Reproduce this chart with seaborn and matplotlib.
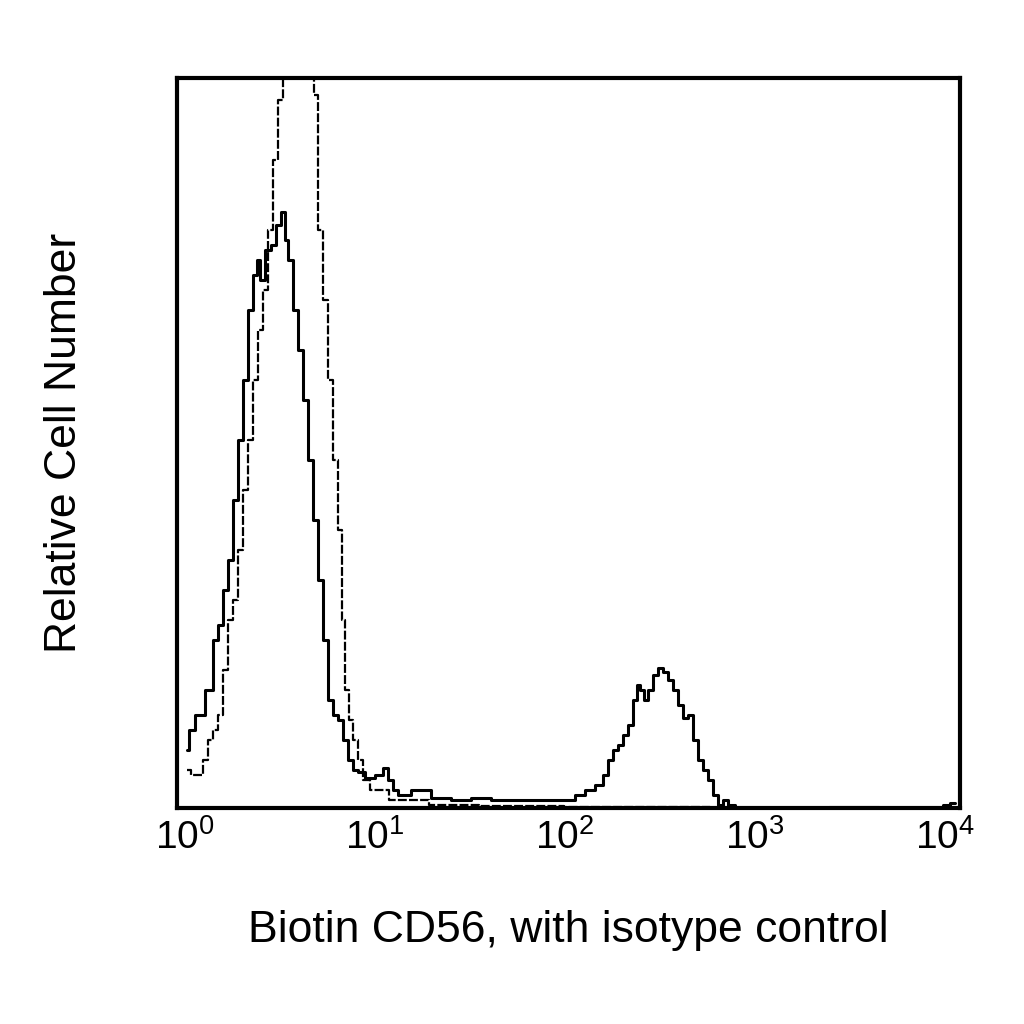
import numpy as np
import matplotlib
matplotlib.use("Agg")
import matplotlib.pyplot as plt
import seaborn as sns
import pandas as pd

# log10 fluorescence (decades) and relative cell counts
cd56_log = [0.011,0.026,0.079,0.132,0.158,0.184,0.211,0.237,0.263,0.289,0.316,0.342,0.368,0.384,0.405,0.437,0.463,0.489,0.516,0.532,0.553,0.579,0.605,0.632,0.658,0.684,0.711,0.737,0.763,0.789,0.816,0.842,0.868,0.895,0.921,0.974,1.026,1.053,1.079,1.105,1.132,1.237,1.342,1.447,1.553,1.658,1.763,1.921,2.026,2.079,2.132,2.184,2.211,2.237,2.263,2.289,2.316,2.342,2.368,2.384,2.405,2.421,2.447,2.474,2.5,2.526,2.553,2.579,2.605,2.632,2.658,2.684,2.711,2.737,2.763,2.789,2.816,2.842,2.868,2.921,3.237,3.5,3.763,3.974,4.0,4.053]
cd56_cnt = [58,78,93,118,168,183,218,248,308,368,428,498,533,548,528,558,563,583,596,568,548,498,458,408,348,288,228,168,108,93,88,68,48,38,36,30,33,40,28,18,13,18,10,8,10,8,8,8,8,13,18,23,33,48,58,63,73,83,108,123,118,108,118,133,140,136,128,118,103,90,93,68,48,38,28,13,3,8,3,0,0,1,0,0,3,5]

iso_log = [0.011,0.053,0.079,0.105,0.132,0.158,0.184,0.211,0.237,0.263,0.289,0.316,0.342,0.368,0.395,0.421,0.447,0.474,0.5,0.526,0.579,0.632,0.647,0.668,0.684,0.711,0.737,0.763,0.789,0.816,0.832,0.853,0.868,0.895,0.921,0.947,1.0,1.132,1.395,1.658,2.184,3.0,4.053]
iso_cnt = [38,33,33,48,68,78,93,138,188,208,258,318,368,428,478,518,578,648,708,760,860,900,840,760,713,578,508,428,348,278,188,118,88,68,48,28,18,8,3,2,1,0,0]

df1 = pd.DataFrame({"x": 10 ** np.array(cd56_log), "y": cd56_cnt})
df2 = pd.DataFrame({"x": 10 ** np.array(iso_log), "y": iso_cnt})

sns.set_style("white")
plt.rcParams['font.family'] = ['Liberation Sans', 'DejaVu Sans']
plt.rcParams['mathtext.fontset'] = 'custom'
plt.rcParams['mathtext.rm'] = 'Liberation Sans'
plt.rcParams['text.color'] = 'black'
plt.rcParams['axes.labelcolor'] = 'black'
plt.rcParams['xtick.color'] = 'black'

fig = plt.figure(figsize=(10.24, 10.24), dpi=100)
ax = fig.add_axes([0.173, 0.211, 0.7645, 0.713])
sns.lineplot(data=df2, x="x", y="y", ax=ax, color="black", lw=1.6,
             linestyle=(0, (4, 1)), drawstyle="steps-mid")
sns.lineplot(data=df1, x="x", y="y", ax=ax, color="black", lw=2.2,
             drawstyle="steps-mid")
ax.set_xscale("log")
ax.set_xlim(10 ** (-8 / 190), 10 ** (4 + 15 / 190))
ax.set_ylim(0, 730)
ax.set_yticks([])
ax.set_xticks([1, 10, 100, 1000, 10000])
ax.set_xticklabels([r"$10^{0}$", r"$10^{1}$", r"$10^{2}$", r"$10^{3}$", r"$10^{4}$"])
ax.minorticks_off()
ax.tick_params(axis="x", labelsize=28, length=0, pad=8)
for s in ax.spines.values():
    s.set_linewidth(3)
    s.set_color("black")
ax.set_xlabel("Biotin CD56, with isotype control", fontsize=32, labelpad=38)
ax.set_ylabel("Relative Cell Number", fontsize=32, labelpad=66)
fig.savefig("out.png", dpi=100)
